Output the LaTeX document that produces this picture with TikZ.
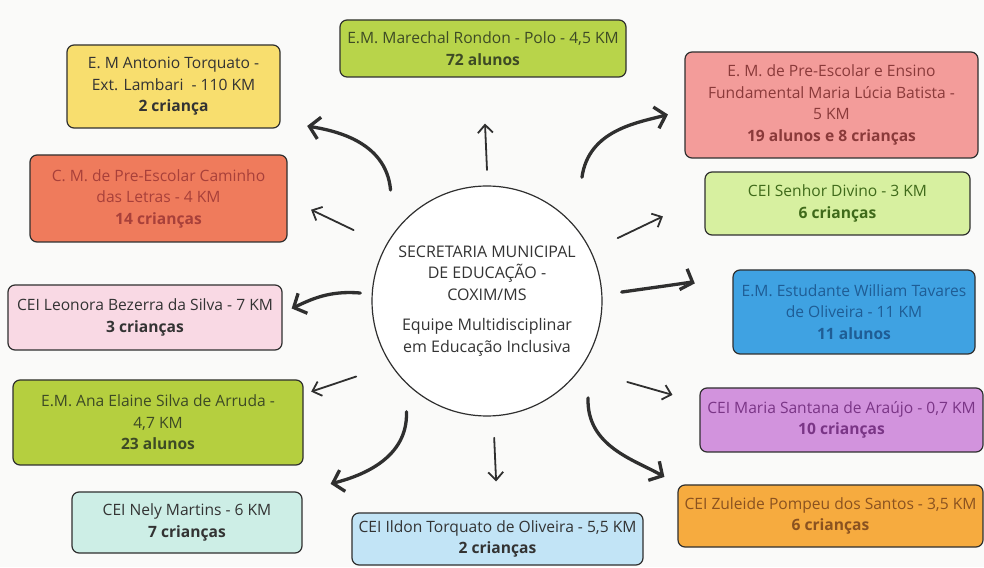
\documentclass[tikz,border=0pt]{standalone}
\usepackage{fontspec}
\setmainfont{Open Sans}
\usetikzlibrary{arrows.meta,calc}

\definecolor{edge}{HTML}{2F2F2F}
\definecolor{paper}{HTML}{FAFAF9}
\definecolor{flime}{HTML}{B8D44A}
\definecolor{fyellow}{HTML}{F8DE6E}
\definecolor{fcoral}{HTML}{EF7B5C}
\definecolor{fpink}{HTML}{F9D9E4}
\definecolor{fgreen}{HTML}{B5CF3F}
\definecolor{fmint}{HTML}{CDEEE6}
\definecolor{fsky}{HTML}{C2E4F6}
\definecolor{fsalmon}{HTML}{F39C9A}
\definecolor{fpale}{HTML}{D7F0A0}
\definecolor{fblue}{HTML}{3FA2E2}
\definecolor{fviolet}{HTML}{D293DD}
\definecolor{forange}{HTML}{F6AB3F}
\definecolor{tdark}{HTML}{333333}
\definecolor{tolive}{HTML}{3D4A25}
\definecolor{tred}{HTML}{A8403A}
\definecolor{tbrown}{HTML}{8A3A3A}
\definecolor{tleaf}{HTML}{3F6A1A}
\definecolor{tnavy}{HTML}{1F5D95}
\definecolor{tplum}{HTML}{7A3586}
\definecolor{trust}{HTML}{8A5220}

\begin{document}
\begin{tikzpicture}[x=1pt,y=1pt]

\tikzset{school/.style = {draw=edge, line width=1.2pt, rounded corners=7pt, align=center,
    inner sep=1pt, text=tdark, font=\fontsize{15.6}{21.5}\selectfont},
  box/.style 2 args = {minimum width=#1, minimum height=#2},
  shortarrow/.style = {draw=edge, line width=1.8pt, line cap=round, -{Straight Barb[length=8pt,width=15pt]}},
  bentarrow/.style = {draw=edge, line width=3.3pt, line cap=round, -{Straight Barb[length=10pt,width=22pt]}}}

\fill[paper] (0,0) rectangle (984,567);
\useasboundingbox (0,0) rectangle (984,567);

\node[circle, draw=edge, line width=1.2pt, fill=white, minimum size=230pt, align=center, text=tdark,
  font=\fontsize{16}{21.5}\selectfont] (hub) at (487,266)
  {SECRETARIA MUNICIPAL\\DE EDUCAÇÃO -\\COXIM/MS\\[9pt]Equipe Multidisciplinar\\em Educação Inclusiva};

% left side
\node[school, box={213pt}{83pt}, fill=fyellow] (torquato) at (173.5,480.5)
  {E. M Antonio Torquato -\\Ext. Lambari \ - 110 KM\\\textbf{2 criança}};
\node[school, box={257pt}{87pt}, fill=fcoral, text=tred] (caminho) at (158.5,368.5)
  {C. M. de Pre-Escolar Caminho\\das Letras - 4 KM\\\textbf{14 crianças}};
\node[school, box={274pt}{65pt}, fill=fpink] (leonora) at (145,249.5)
  {CEI Leonora Bezerra da Silva - 7 KM\\\textbf{3 crianças}};
\node[school, box={290pt}{85pt}, fill=fgreen, text=tolive] (ana) at (158,144.5)
  {E.M. Ana Elaine Silva de Arruda -\\4,7 KM\\\textbf{23 alunos}};
\node[school, box={230pt}{61pt}, fill=fmint] (nely) at (187,44.5)
  {CEI Nely Martins - 6 KM\\\textbf{7 crianças}};

% top and bottom
\node[school, box={286pt}{57pt}, fill=flime, text=tolive] (marechal) at (483,518.5)
  {E.M. Marechal Rondon - Polo - 4,5 KM\\\textbf{72 alunos}};
\node[school, box={291pt}{52pt}, fill=fsky] (ildon) at (497.5,28)
  {CEI Ildon Torquato de Oliveira - 5,5 KM\\\textbf{2 crianças}};

% right side
\node[school, box={293pt}{106pt}, fill=fsalmon, text=tbrown] (lucia) at (831.5,462)
  {E. M. de Pre-Escolar e Ensino\\Fundamental Maria Lúcia Batista -\\5 KM\\\textbf{19 alunos e 8 crianças}};
\node[school, box={265pt}{63pt}, fill=fpale, text=tleaf] (divino) at (837.5,363.5)
  {CEI Senhor Divino - 3 KM\\\textbf{6 crianças}};
\node[school, box={242pt}{84pt}, fill=fblue, text=tnavy] (william) at (854,255)
  {E.M. Estudante William Tavares\\de Oliveira - 11 KM\\\textbf{11 alunos}};
\node[school, box={283pt}{64pt}, fill=fviolet, text=tplum] (santana) at (841.5,147)
  {CEI Maria Santana de Araújo - 0,7 KM\\\textbf{10 crianças}};
\node[school, box={305pt}{62pt}, fill=forange, text=trust] (zuleide) at (830.5,51)
  {CEI Zuleide Pompeu dos Santos - 3,5 KM\\\textbf{6 crianças}};

% straight arrows
\draw[shortarrow, shorten >=46pt] ($(hub)+(90:131pt)$) -- (marechal.south);
\draw[shortarrow, shorten >=26pt] ($(hub)+(152:151pt)$) -- (caminho.east);
\draw[shortarrow, shorten >=8pt] ($(hub)+(210:151pt)$) -- (ana.11);
\draw[shortarrow, shorten >=31pt] ($(hub)+(-87:137pt)$) -- (ildon.north);
\draw[shortarrow, shorten >=46pt] ($(hub)+(25.7:145pt)$) -- (divino.177);
\draw[shortarrow, shorten >=28pt] ($(hub)+(-30:162pt)$) -- (santana.173);

% curved arrows
\draw[bentarrow, shorten >=27pt] ($(hub)+(131:147pt)$) to[out=95, in=-10] (torquato.-18);
\draw[bentarrow, shorten >=10pt] ($(hub)+(176.4:127pt)$) to[out=175, in=25] (leonora.2);
\draw[bentarrow, shorten >=29pt] ($(hub)+(234:137pt)$) to[out=-88, in=15] (nely.north east);
\draw[bentarrow, shorten >=17pt] ($(hub)+(52.5:156pt)$) to[out=82, in=195] (lucia.182);
\draw[bentarrow, shorten >=40pt] ($(hub)+(3.8:135pt)$) to[out=8, in=160] (william.173);
\draw[bentarrow, shorten >=15pt] ($(hub)+(-43.8:140pt)$) to[out=-92, in=150] (zuleide.north west);

\end{tikzpicture}
\end{document}
